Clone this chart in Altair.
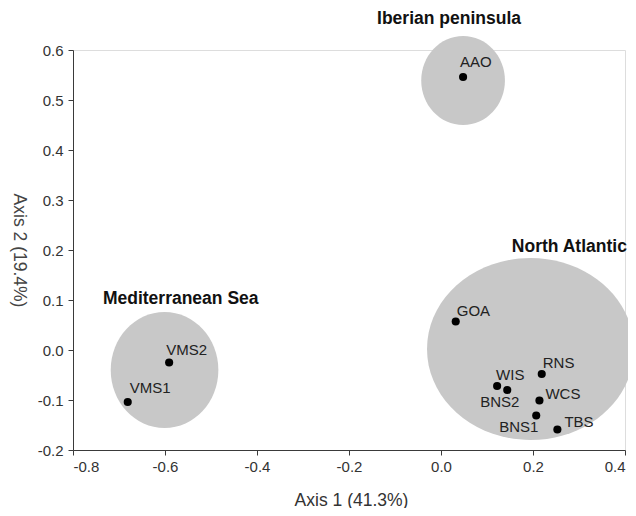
import altair as alt
import pandas as pd

# ---- data ----
site = ["AAO", "GOA", "RNS", "WIS", "BNS2", "WCS", "BNS1", "TBS", "VMS2", "VMS1"]
axis1 = [0.048, 0.032, 0.219, 0.122, 0.144, 0.214, 0.207, 0.253, -0.591, -0.681]
axis2 = [0.546, 0.057, -0.048, -0.072, -0.080, -0.101, -0.131, -0.159, -0.025, -0.104]

# label offsets in pixels relative to the dot (style)
lab_dx = [-3, 1, 1, -1, -27, 6, -37, 7, -3, 2]
lab_dy = [-15, -11, -11, -11, 12, -7, 11, -8, -13, -14]

group = ["Iberian peninsula", "North Atlantic", "Mediterranean Sea"]
grp_cx = [0.048, 0.1946, -0.601]
grp_cy = [0.539, 0.002, -0.040]
grp_rx = [0.091, 0.225, 0.117]
grp_ry = [0.089, 0.182, 0.116]
grp_lx = [-0.139, 0.154, -0.735]   # left edge of the group title
grp_ly = [0.653, 0.197, 0.092]     # baseline of the group title

x_ticks = [-0.8, -0.6, -0.4, -0.2, 0.0, 0.2, 0.4]
y_ticks = [-0.2, -0.1, 0.0, 0.1, 0.2, 0.3, 0.4, 0.5, 0.6]

W, H = 552, 400
XD = [-0.8, 0.4]
YD = [-0.2, 0.6]
px_x = W / (XD[1] - XD[0])
px_y = H / (YD[1] - YD[0])

k = 0.5523
def ellipse_path(a, b):
    return (f"M {-a} 0 C {-a} {-k*b} {-k*a} {-b} 0 {-b} "
            f"C {k*a} {-b} {a} {-k*b} {a} 0 "
            f"C {a} {k*b} {k*a} {b} 0 {b} "
            f"C {-k*a} {b} {-a} {k*b} {-a} 0 Z")

paths, sizes = [], []
for rx, ry in zip(grp_rx, grp_ry):
    rxp, ryp = rx * px_x, ry * px_y
    m = max(rxp, ryp)
    paths.append(ellipse_path(rxp / m, ryp / m))
    sizes.append((2 * m) ** 2)

ell = pd.DataFrame({"group": group, "cx": grp_cx, "cy": grp_cy,
                    "path": paths, "size": sizes,
                    "lx": grp_lx, "ly": grp_ly})
pts = pd.DataFrame({"site": site, "x": axis1, "y": axis2})
pts["lx"] = [x + dx / px_x for x, dx in zip(axis1, lab_dx)]
pts["ly"] = [y - dy / px_y for y, dy in zip(axis2, lab_dy)]

FONT = "Liberation Sans"
AX = "#3a3a3a"
LBL = "datum.value < 0 ? '-' + format(-datum.value, '.1f') : format(datum.value, '.1f')"

xscale = alt.Scale(domain=XD, nice=False, zero=False)
yscale = alt.Scale(domain=YD, nice=False, zero=False)

xax = alt.Axis(title="Axis 1 (41.3%)", values=x_ticks, labelExpr=LBL,
               grid=False, tickSize=5, labelPadding=4,
               domainColor=AX, tickColor=AX, labelColor="#333333", titleColor="#333333",
               labelFontSize=15, titleFontSize=17.5, labelFont=FONT, titleFont=FONT,
               titleFontWeight="normal", titleX=278, titleY=55,
               titleBaseline="alphabetic", titleAlign="center")
yax = alt.Axis(title="Axis 2 (19.4%)", values=y_ticks, labelExpr=LBL,
               grid=False, tickSize=5, labelPadding=5,
               domainColor=AX, tickColor=AX, labelColor="#333333", titleColor="#444444",
               labelFontSize=15, titleFontSize=17.5, labelFont=FONT, titleFont=FONT,
               titleFontWeight="normal", titleAngle=90, titleX=-55, titleY=200,
               titleBaseline="middle", titleAlign="center")

ellipses = alt.Chart(ell).mark_point(filled=True, opacity=1, color="#c8c8c8",
                                     strokeWidth=0).encode(
    x=alt.X("cx:Q", scale=xscale, axis=xax),
    y=alt.Y("cy:Q", scale=yscale, axis=yax),
    shape=alt.Shape("path:N", scale=None),
    size=alt.Size("size:Q", scale=None),
)

glabels = alt.Chart(ell).mark_text(font=FONT, fontSize=17.5, fontWeight="bold",
                                   color="#111111", align="left",
                                   baseline="alphabetic").encode(
    x=alt.X("lx:Q", scale=xscale),
    y=alt.Y("ly:Q", scale=yscale),
    text="group:N",
)

dots = alt.Chart(pts).mark_point(filled=True, opacity=1, color="black",
                                 size=66, shape="circle").encode(
    x=alt.X("x:Q", scale=xscale),
    y=alt.Y("y:Q", scale=yscale),
)

plabels = alt.Chart(pts).mark_text(font=FONT, fontSize=15, color="#222222",
                                   align="left", baseline="middle").encode(
    x=alt.X("lx:Q", scale=xscale),
    y=alt.Y("ly:Q", scale=yscale),
    text="site:N",
)

chart = alt.layer(ellipses, glabels, dots, plabels).properties(
    width=W, height=H,
    autosize=alt.AutoSizeParams(type="none"),
    padding={"left": 65, "top": 42, "right": 3, "bottom": 58},
).configure_view(stroke=None).configure(background="white")

chart.save("out.html", embed_options={"renderer": "svg", "actions": False})
